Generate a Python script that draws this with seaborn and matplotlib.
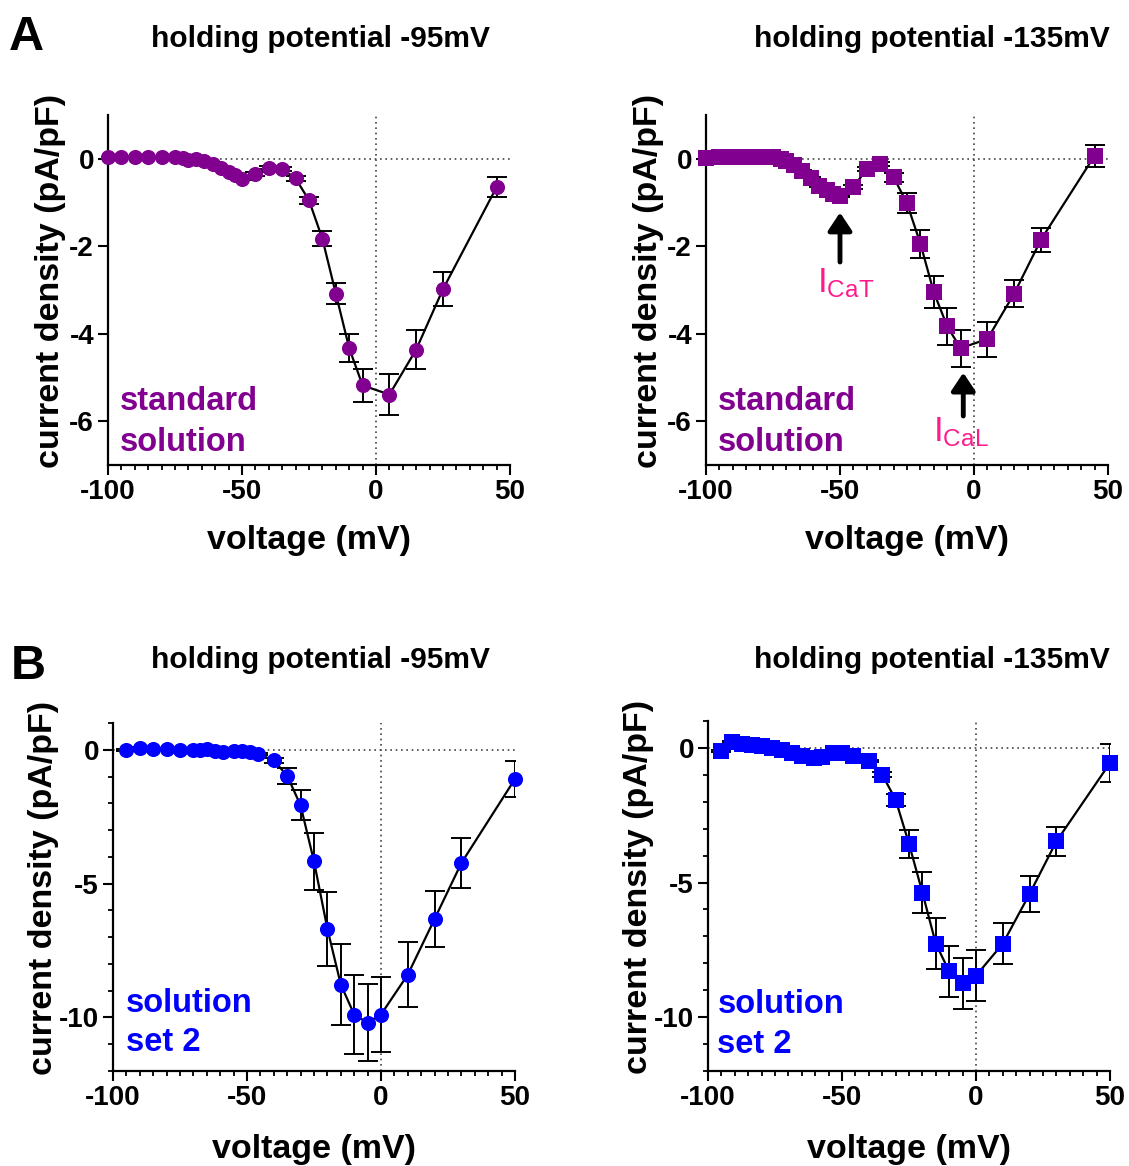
import numpy as np
import pandas as pd
import matplotlib
matplotlib.use("Agg")
import matplotlib.pyplot as plt
import seaborn as sns
from matplotlib.ticker import MultipleLocator

sns.set_style("ticks")
plt.rcParams['font.family'] = ['Liberation Sans', 'DejaVu Sans']
plt.rcParams['axes.unicode_minus'] = False
plt.rcParams['mathtext.fontset'] = 'custom'
plt.rcParams['mathtext.rm'] = 'Liberation Sans'
plt.rcParams['mathtext.it'] = 'Liberation Sans:italic'
plt.rcParams['mathtext.bf'] = 'Liberation Sans:bold'
for k in ['text.color', 'axes.labelcolor', 'xtick.color', 'ytick.color', 'axes.edgecolor']:
    plt.rcParams[k] = 'black'

purple = '#82008f'
blue = '#0000ff'
pink = '#ff1a8c'

# A - standard solution, holding -95 mV
a95_v = [-100, -95, -90, -85, -80, -75, -72, -70, -67, -64, -61, -58, -55, -52.5, -50,
         -45, -40, -35, -30, -25, -20, -15, -10, -5, 5, 15, 25, 45]
a95_i = [0.04, 0.03, 0.03, 0.03, 0.03, 0.04, 0.02, -0.02, 0.0, -0.06, -0.12, -0.2, -0.3, -0.38, -0.46,
         -0.35, -0.2, -0.23, -0.45, -0.95, -1.83, -3.08, -4.33, -5.18, -5.39, -4.36, -2.98, -0.65]
a95_err = [0.02] * 15 + [0.04, 0.04, 0.05, 0.06, 0.08, 0.17, 0.25, 0.32, 0.38, 0.46, 0.45, 0.39, 0.23]

# A - standard solution, holding -135 mV
a135_v = [-100, -95, -90, -85, -80, -75, -72, -70, -67, -64, -61, -58, -55, -52.5, -50,
          -45, -40, -35, -30, -25, -20, -15, -10, -5, 5, 15, 25, 45]
a135_i = [0.02, 0.03, 0.03, 0.04, 0.04, 0.03, 0.0, -0.06, -0.15, -0.28, -0.43, -0.62, -0.72, -0.8, -0.86,
          -0.65, -0.23, -0.12, -0.42, -1.02, -1.94, -3.05, -3.83, -4.33, -4.12, -3.08, -1.85, 0.07]
a135_err = [0.02] * 15 + [0.05, 0.05, 0.05, 0.1, 0.23, 0.32, 0.37, 0.42, 0.42, 0.4, 0.31, 0.27, 0.25]

# B - solution set 2, holding -95 mV
b95_v = [-95, -90, -85, -80, -75, -70, -67.5, -65, -62, -59, -55, -52, -49, -46,
         -40, -35, -30, -25, -20, -15, -10, -5, 0, 10, 20, 30, 50]
b95_i = [0.0, 0.06, 0.03, 0.03, -0.02, 0.0, -0.02, 0.03, -0.06, -0.08, -0.04, -0.06, -0.1, -0.15,
         -0.4, -0.97, -2.08, -4.17, -6.69, -8.77, -9.89, -10.2, -9.89, -8.4, -6.32, -4.23, -1.09]
b95_err = [0.03] * 14 + [0.1, 0.3, 0.56, 1.07, 1.39, 1.53, 1.49, 1.44, 1.39, 1.22, 1.04, 0.92, 0.68]

# B - solution set 2, holding -135 mV
b135_v = [-95, -91, -87.5, -83.5, -80, -76, -72.5, -68.5, -65, -60.5, -57.5, -53.5, -50, -46,
          -40, -35, -30, -25, -20, -15, -10, -5, 0, 10, 20, 30, 50]
b135_i = [-0.12, 0.21, 0.16, 0.12, 0.09, 0.0, -0.09, -0.19, -0.29, -0.38, -0.34, -0.19, -0.19, -0.29,
          -0.5, -0.99, -1.92, -3.56, -5.37, -7.27, -8.3, -8.74, -8.46, -7.27, -5.42, -3.47, -0.56]
b135_err = [0.04] * 15 + [0.1, 0.22, 0.51, 0.76, 0.94, 0.96, 0.94, 0.94, 0.76, 0.67, 0.55, 0.69]

W, H = 1129, 1166
fig = plt.figure(figsize=(W / 100, H / 100), dpi=100)


def px_axes(l, t, r, b):
    return fig.add_axes([l / W, 1 - b / H, (r - l) / W, (b - t) / H])


def iv_panel(ax, v, i, err, color, marker, size, ylim, ymajor, yminor, lab_x, lab_y):
    ax.axhline(0, color='#444444', lw=1.2, ls=(0, (1, 2.2)), zorder=1)
    ax.axvline(0, color='#444444', lw=1.2, ls=(0, (1, 2.2)), zorder=1)
    sns.lineplot(x=v, y=i, ax=ax, color='black', lw=1.6, sort=False, estimator=None, zorder=2)
    ax.errorbar(v, i, yerr=err, fmt='none', ecolor='black', elinewidth=1.4,
                capsize=7, capthick=1.4, zorder=3)
    sns.scatterplot(x=v, y=i, ax=ax, marker=marker, s=size, color=color,
                    linewidth=0, zorder=4, clip_on=False)
    ax.set_xlim(-100, 50)
    ax.set_ylim(*ylim)
    ax.xaxis.set_major_locator(MultipleLocator(50))
    ax.xaxis.set_minor_locator(MultipleLocator(5))
    ax.yaxis.set_major_locator(MultipleLocator(ymajor))
    if yminor:
        ax.yaxis.set_minor_locator(MultipleLocator(yminor))
    sns.despine(ax=ax)
    for s in ['left', 'bottom']:
        ax.spines[s].set_linewidth(1.6)
    ax.tick_params(which='major', length=7, width=1.5, labelsize=20, pad=3)
    ax.tick_params(which='minor', length=3.5, width=1.3)
    for t in ax.get_xticklabels() + ax.get_yticklabels():
        t.set_fontweight('bold')
    ax.set_xlabel('voltage (mV)', fontsize=24.5, fontweight='bold')
    ax.set_ylabel('current density (pA/pF)', fontsize=24.5, fontweight='bold')
    ax.xaxis.set_label_coords(0.5, lab_y)
    ax.yaxis.set_label_coords(lab_x, 0.525)


axA1 = px_axes(108, 115, 510, 465)
axA2 = px_axes(706, 115, 1108, 465)
axB1 = px_axes(113, 723, 515, 1071)
axB2 = px_axes(708, 721, 1110, 1071)

iv_panel(axA1, a95_v, a95_i, a95_err, purple, 'o', 118, (-7, 1), 2, None, -0.105, -0.17)
iv_panel(axA2, a135_v, a135_i, a135_err, purple, 's', 125, (-7, 1), 2, None, -0.105, -0.17)
iv_panel(axB1, b95_v, b95_i, b95_err, blue, 'o', 118, (-12, 1), 5, 1, -0.135, -0.18)
iv_panel(axB2, b135_v, b135_i, b135_err, blue, 's', 122, (-12, 1), 5, 1, -0.135, -0.18)

# solution labels
for ax in [axA1, axA2]:
    ax.text(-95.5, -5.75, 'standard', color=purple, fontsize=23.5, fontweight='bold', va='baseline')
    ax.text(-95.5, -6.68, 'solution', color=purple, fontsize=23.5, fontweight='bold', va='baseline')
axB1.text(-95.3, -9.78, 'solution', color=blue, fontsize=23.5, fontweight='bold', va='baseline')
axB1.text(-95.3, -11.27, 'set 2', color=blue, fontsize=23.5, fontweight='bold', va='baseline')
axB2.text(-96.5, -9.84, 'solution', color=blue, fontsize=23.5, fontweight='bold', va='baseline')
axB2.text(-96.5, -11.33, 'set 2', color=blue, fontsize=23.5, fontweight='bold', va='baseline')

# T- and L-type current arrows
arrow = dict(arrowstyle='-|>,head_length=0.54,head_width=0.36', lw=3.5, color='black',
             mutation_scale=20, shrinkA=0, shrinkB=0)
axA2.annotate('', xy=(-50, -1.23), xytext=(-50, -2.36), arrowprops=arrow)
axA2.annotate('', xy=(-4, -4.89), xytext=(-4, -5.88), arrowprops=arrow)
axA2.text(-48, -3.06, r'$\mathrm{I_{CaT}}$', color=pink, fontsize=25, ha='center', va='baseline')
axA2.text(-4.8, -6.45, r'$\mathrm{I_{CaL}}$', color=pink, fontsize=25, ha='center', va='baseline')

# titles and panel letters
fig.text(320 / W, 1 - 47 / H, 'holding potential -95mV', fontsize=21.5, fontweight='bold',
         ha='center', va='baseline')
fig.text(932 / W, 1 - 47 / H, 'holding potential -135mV', fontsize=21.5, fontweight='bold',
         ha='center', va='baseline')
fig.text(320 / W, 1 - 668 / H, 'holding potential -95mV', fontsize=21.5, fontweight='bold',
         ha='center', va='baseline')
fig.text(932 / W, 1 - 668 / H, 'holding potential -135mV', fontsize=21.5, fontweight='bold',
         ha='center', va='baseline')
fig.text(9 / W, 1 - 50 / H, 'A', fontsize=35, fontweight='bold', ha='left', va='baseline')
fig.text(11 / W, 1 - 679 / H, 'B', fontsize=35, fontweight='bold', ha='left', va='baseline')

fig.savefig('out.png', dpi=100)
